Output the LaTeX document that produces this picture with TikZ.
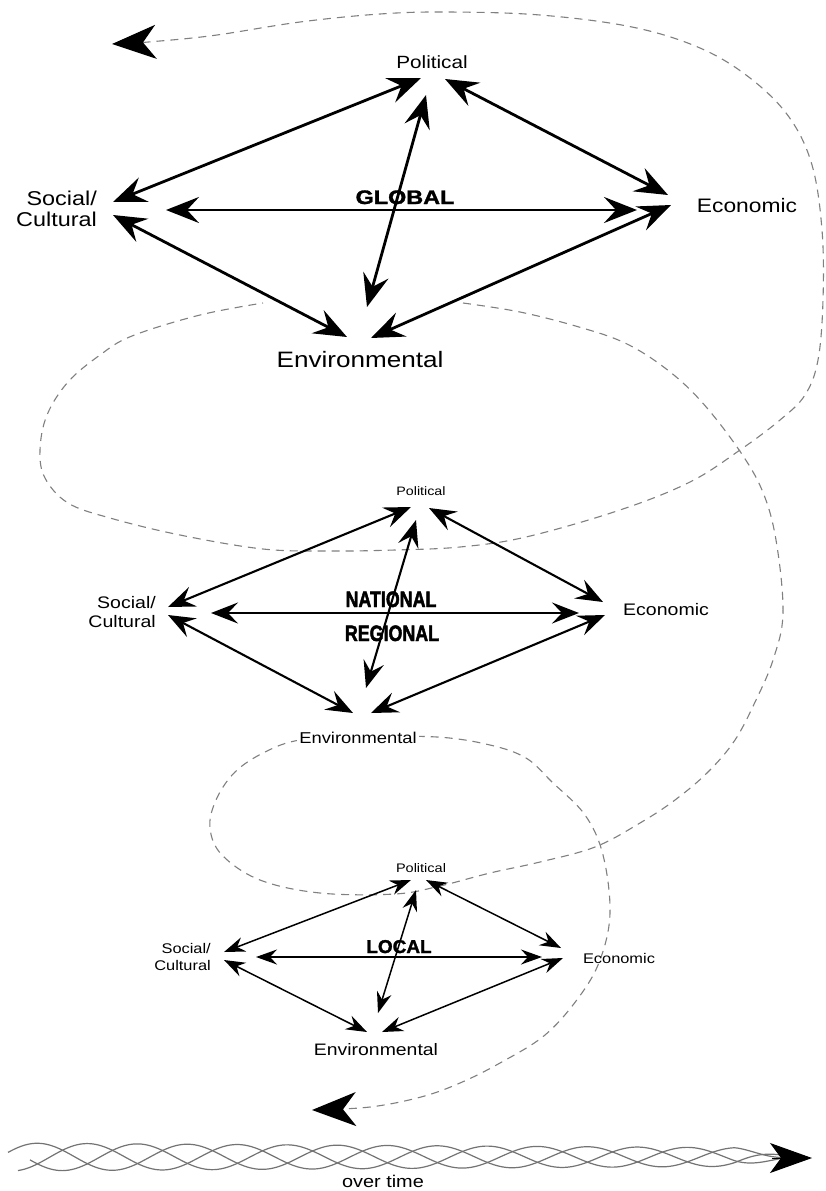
\documentclass[tikz,border=0pt]{standalone}
\usepackage{fontspec}
\setmainfont{Liberation Sans}[FakeStretch=1.17]
\newfontfamily\gfont{Liberation Sans Bold}[FakeStretch=1.2,FakeBold=1.5]
\newfontfamily\nfont{Liberation Sans Bold}[FakeStretch=0.8,FakeBold=2]
\newfontfamily\lfont{Liberation Sans Bold}[FakeStretch=1.02,FakeBold=1.5]
\usetikzlibrary{arrows.meta}
\tikzset{
  bigtip/.tip={Stealth[length=44pt,width=34pt,inset=13pt,color=black]},
  gtip/.tip={Stealth[length=33pt,width=26pt,inset=12pt]},
  ntip/.tip={Stealth[length=27pt,width=21pt,inset=10pt]},
  ltip/.tip={Stealth[length=21pt,width=15pt,inset=7pt]},
  lbl/.style={inner sep=0pt, anchor=base},
  lblw/.style={inner sep=2pt, anchor=base, fill=white},
  multi/.style={inner sep=0pt, anchor=north east, align=right},
  garr/.style={line width=2.8pt, gtip-gtip},
  narr/.style={line width=2.1pt, ntip-ntip},
  larr/.style={line width=1.5pt, ltip-ltip},
  spiral/.style={draw=black!50, line width=1.1pt, dash pattern=on 8pt off 6pt},
  wave/.style={draw=black!55, line width=1.2pt},
}
\begin{document}
\begin{tikzpicture}[x=1pt,y=-1pt]
\useasboundingbox (0,0) rectangle (826,1191);
\fill[white] (0,0) rectangle (826,1191);

% ---------- dashed spiral ----------
\coordinate (topTip) at (112,44);
\coordinate (botTip) at (312,1110);
\draw[spiral, bigtip-] plot[smooth, tension=0.6] coordinates {(topTip) (160,41) (217,35) (300,22) (380,14) (447,12) (540,15) (632,27) (700,48) (750,78) (789,117) (812,165) (822,230) (823,300) (818,360) (805,395) (780,420) (740,450) (690,482) (620,510) (526,537) (460,547) (395,550) (330,551) (263,549) (180,535) (110,518) (68,503) (45,478) (40,450) (47,415) (68,382) (100,355) (132,336) (200,315) (263,303)};
\draw[spiral, -bigtip] plot[smooth, tension=0.6] coordinates {(463,303) (520,312) (579,327) (625,343) (665,368) (700,400) (737,447) (762,490) (776,540) (783,613) (773,660) (756,700) (735,740) (708,772) (675,800) (640,823) (595,847) (540,862) (490,873) (440,886) (395,894) (320,893) (260,880) (222,855) (210,828) (216,800) (235,772) (265,752) (300,740) (358,737) (437,737) (490,745) (526,758) (552,782) (585,815) (603,855) (610,913) (600,960) (579,997) (545,1035) (500,1063) (460,1083) (421,1097) (370,1107) (botTip)};

% ---------- GLOBAL ----------
\node[lbl, font=\fontsize{17.7pt}{20pt}\selectfont] (gP) at (432,68) {Political};
\node[multi, font=\fontsize{20pt}{21pt}\selectfont] (gS) at (97,190.5) {Social/\\Cultural};
\node[lbl, font=\fontsize{19.5pt}{22pt}\selectfont] (gE) at (747,212) {Economic};
\node[lbl, font=\fontsize{22.3pt}{24pt}\selectfont] (gV) at (360,367) {Environmental};
\node[lbl, font=\gfont\fontsize{19.5pt}{22pt}\selectfont] (gG) at (405,204) {GLOBAL};
\coordinate (gS1) at (113,202); \coordinate (gP1) at (421,78);
\coordinate (gP2) at (445,79);  \coordinate (gE1) at (668,195);
\coordinate (gS2) at (113,215); \coordinate (gV1) at (347,337);
\coordinate (gV2) at (371,338); \coordinate (gE2) at (671,205);
\coordinate (gS3) at (166,210); \coordinate (gE3) at (637,210);
\coordinate (gP3) at (426,95);  \coordinate (gV3) at (367,307);
\draw[garr] (gS1) -- (gP1);
\draw[garr] (gP2) -- (gE1);
\draw[garr] (gS2) -- (gV1);
\draw[garr] (gV2) -- (gE2);
\draw[garr] (gS3) -- (gE3);
\draw[garr] (gP3) -- (gV3);

% ---------- NATIONAL / REGIONAL ----------
\node[lbl, font=\fontsize{12.2pt}{14pt}\selectfont] (nP) at (421,495) {Political};
\node[multi, font=\fontsize{16.7pt}{19pt}\selectfont] (nS) at (156,596) {Social/\\Cultural};
\node[lbl, font=\fontsize{16.7pt}{19pt}\selectfont] (nE) at (666,615) {Economic};
\node[lblw, font=\fontsize{15.7pt}{18pt}\selectfont] (nV) at (358,743) {Environmental};
\coordinate (nS1) at (168,607); \coordinate (nP1) at (411,507);
\coordinate (nP2) at (429,508); \coordinate (nE1) at (603,602);
\coordinate (nS2) at (168,615); \coordinate (nV1) at (353,713);
\coordinate (nV2) at (371,713); \coordinate (nE2) at (605,615);
\coordinate (nS3) at (211,613); \coordinate (nE3) at (579,613);
\coordinate (nP3) at (416,520); \coordinate (nV3) at (366,688);
\draw[narr] (nS1) -- (nP1);
\draw[narr] (nP2) -- (nE1);
\draw[narr] (nS2) -- (nV1);
\draw[narr] (nV2) -- (nE2);
\draw[narr] (nP3) -- (nV3);
\node[lbl, font=\nfont\fontsize{22.3pt}{25pt}\selectfont] (nN) at (391,607) {NATIONAL};
\node[lbl, font=\nfont\fontsize{22.3pt}{25pt}\selectfont] (nR) at (392,641) {REGIONAL};
\draw[narr] (nS3) -- (nE3);

% ---------- LOCAL ----------
\node[lbl, font=\fontsize{12.4pt}{14pt}\selectfont] (lP) at (421,872) {Political};
\node[multi, font=\fontsize{14pt}{17pt}\selectfont] (lS) at (211,942.8) {Social/\\Cultural};
\node[lbl, font=\fontsize{14pt}{17pt}\selectfont] (lE) at (619,963) {Economic};
\node[lbl, font=\fontsize{16.6pt}{19pt}\selectfont] (lV) at (376,1055) {Environmental};
\node[lbl, font=\lfont\fontsize{18.6pt}{21pt}\selectfont] (lL) at (399,953) {LOCAL};
\coordinate (lS1) at (224,952); \coordinate (lP1) at (411,880);
\coordinate (lP2) at (426,880); \coordinate (lE1) at (561,948);
\coordinate (lS2) at (224,960); \coordinate (lV1) at (367,1032);
\coordinate (lV2) at (382,1032); \coordinate (lE2) at (563,958);
\coordinate (lS3) at (256,957); \coordinate (lE3) at (542,957);
\coordinate (lP3) at (416,890); \coordinate (lV3) at (378,1013);
\draw[larr] (lS1) -- (lP1);
\draw[larr] (lP2) -- (lE1);
\draw[larr] (lS2) -- (lV1);
\draw[larr] (lV2) -- (lE2);
\draw[larr] (lS3) -- (lE3);
\draw[larr] (lP3) -- (lV3);

% ---------- over time ----------
\foreach \st/\ph in {8/0, 18/50, 30/100}
  \draw[wave] plot[domain=\st:790, samples=260, smooth] (\x, {1157 - (14-5*\x/790)*min(1,(795-\x)/60)*sin((\x-\ph)*2.4)});
\coordinate (tA) at (772,1158);
\coordinate (tB) at (812,1158);
\draw[line width=1pt, -{Stealth[length=42pt,width=30pt,inset=11pt]}] (tA) -- (tB);
\node[lbl, font=\fontsize{17pt}{19pt}\selectfont] (ot) at (383,1187) {over time};
\end{tikzpicture}
\end{document}
